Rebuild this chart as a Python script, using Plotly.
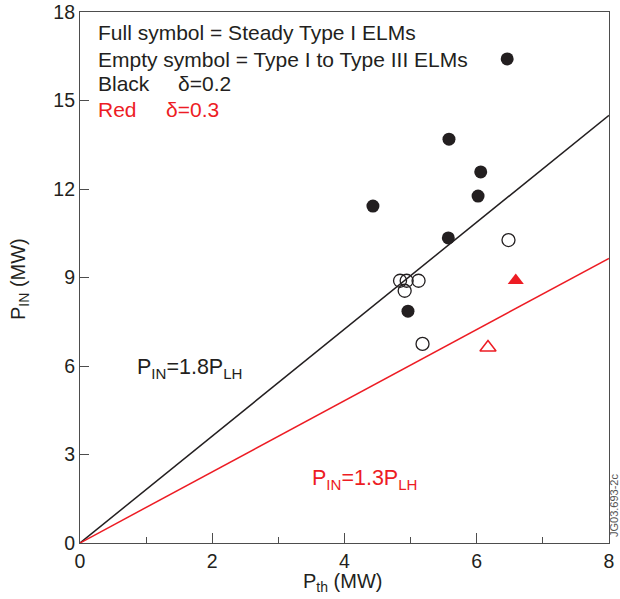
import plotly.graph_objects as go

# Data
steady_x = [6.46, 5.58, 6.06, 6.02, 4.43, 5.57, 4.96]
steady_y = [16.41, 13.69, 12.58, 11.76, 11.42, 10.34, 7.86]

mixed_x = [6.48, 4.84, 4.94, 5.12, 4.91, 5.18]
mixed_y = [10.27, 8.89, 8.89, 8.89, 8.55, 6.75]

red_steady_x = [6.59]
red_steady_y = [8.90]
red_mixed_x = [6.17]
red_mixed_y = [6.63]

line18_x = [0, 8]
line18_y = [0, 14.5]
line13_x = [0, 8]
line13_y = [0, 9.65]

x_ticks = [0, 2, 4, 6, 8]
x_minor = [1, 3, 5, 7]
y_ticks = [0, 3, 6, 9, 12, 15, 18]

BLACK = "#231f20"
RED = "#ed1c24"
AX = "#4d4d4d"
FONT = "Liberation Sans, Arial, sans-serif"

fig = go.Figure()
fig.add_trace(go.Scatter(x=line18_x, y=line18_y, mode="lines",
                         line=dict(color=BLACK, width=1.5), hoverinfo="skip"))
fig.add_trace(go.Scatter(x=line13_x, y=line13_y, mode="lines",
                         line=dict(color=RED, width=1.5), hoverinfo="skip"))
fig.add_trace(go.Scatter(x=steady_x, y=steady_y, mode="markers",
                         marker=dict(symbol="circle", size=13, color=BLACK,
                                     line=dict(width=0))))
fig.add_trace(go.Scatter(x=mixed_x, y=mixed_y, mode="markers",
                         marker=dict(symbol="circle-open", size=13, color=BLACK,
                                     line=dict(width=1.3))))
fig.add_trace(go.Scatter(x=red_steady_x, y=red_steady_y, mode="markers",
                         marker=dict(symbol="triangle-up", size=14, color=RED,
                                     line=dict(width=0))))
fig.add_trace(go.Scatter(x=red_mixed_x, y=red_mixed_y, mode="markers",
                         marker=dict(symbol="triangle-up-open", size=14, color=RED,
                                     line=dict(width=1.5))))

# plot area in page pixels (reference): x 80..609, y 12..543
W = 529.0
H = 531.0
def px(xp, yp):
    return (xp - 80) / W, (543 - yp) / H

ann = []
def txt(xp, yp, s, color=BLACK, size=21, xanchor="left", angle=0):
    x, y = px(xp, yp)
    ann.append(dict(xref="paper", yref="paper", x=x, y=y, text=s, showarrow=False,
                    xanchor=xanchor, yanchor="middle", textangle=angle,
                    font=dict(family=FONT, size=size, color=color)))

txt(96, 33, "Full symbol = Steady Type I ELMs")
txt(96, 59, "Empty symbol = Type I to Type III ELMs")
txt(96, 84, "Black")
txt(176, 84, "δ=0.2")
txt(96, 109, "Red", color=RED)
txt(164, 109, "δ=0.3", color=RED)
txt(135, 368, "P<sub>IN</sub>=1.8P<sub>LH</sub>", size=21.5)
txt(310, 479, "P<sub>IN</sub>=1.3P<sub>LH</sub>", color=RED, size=21.5)
txt(342, 582, "P<sub>th</sub> (MW)", size=20, xanchor="center")
txt(20, 279, "P<sub>IN</sub> (MW)", size=20, xanchor="center", angle=-90)
txt(614, 506, "JG03.693-2c", color="#555555", size=11, xanchor="center", angle=-90)

fig.update_layout(
    width=620, height=599,
    margin=dict(l=80, r=11, t=12, b=56),
    paper_bgcolor="white", plot_bgcolor="white",
    showlegend=False,
    font=dict(family=FONT, size=19, color=BLACK),
    annotations=ann,
    xaxis=dict(range=[0, 8], tickvals=x_ticks, ticktext=[str(v) for v in x_ticks],
               ticks="inside", ticklen=10, tickwidth=1, tickcolor=AX,
               minor=dict(tickvals=x_minor, ticks="inside", ticklen=6,
                          tickwidth=1, tickcolor=AX),
               showline=True, linecolor=AX, linewidth=1.2, mirror=True,
               showgrid=False, zeroline=False, automargin=False,
               ticklabeloverflow="allow",
               tickfont=dict(family=FONT, size=19.5, color=BLACK)),
    yaxis=dict(range=[0, 18], tickvals=y_ticks, ticktext=[str(v) for v in y_ticks],
               ticks="inside", ticklen=9, tickwidth=1, tickcolor=AX,
               showline=True, linecolor=AX, linewidth=1.2, mirror=True,
               showgrid=False, zeroline=False, automargin=False,
               ticklabeloverflow="allow",
               tickfont=dict(family=FONT, size=19.5, color=BLACK)),
)

# remove the default page margin so the figure sits at the window's top-left corner
fig.write_html("out.html",
               config={"displayModeBar": False},
               post_script="document.body.style.margin='0';document.body.style.overflow='hidden';")
